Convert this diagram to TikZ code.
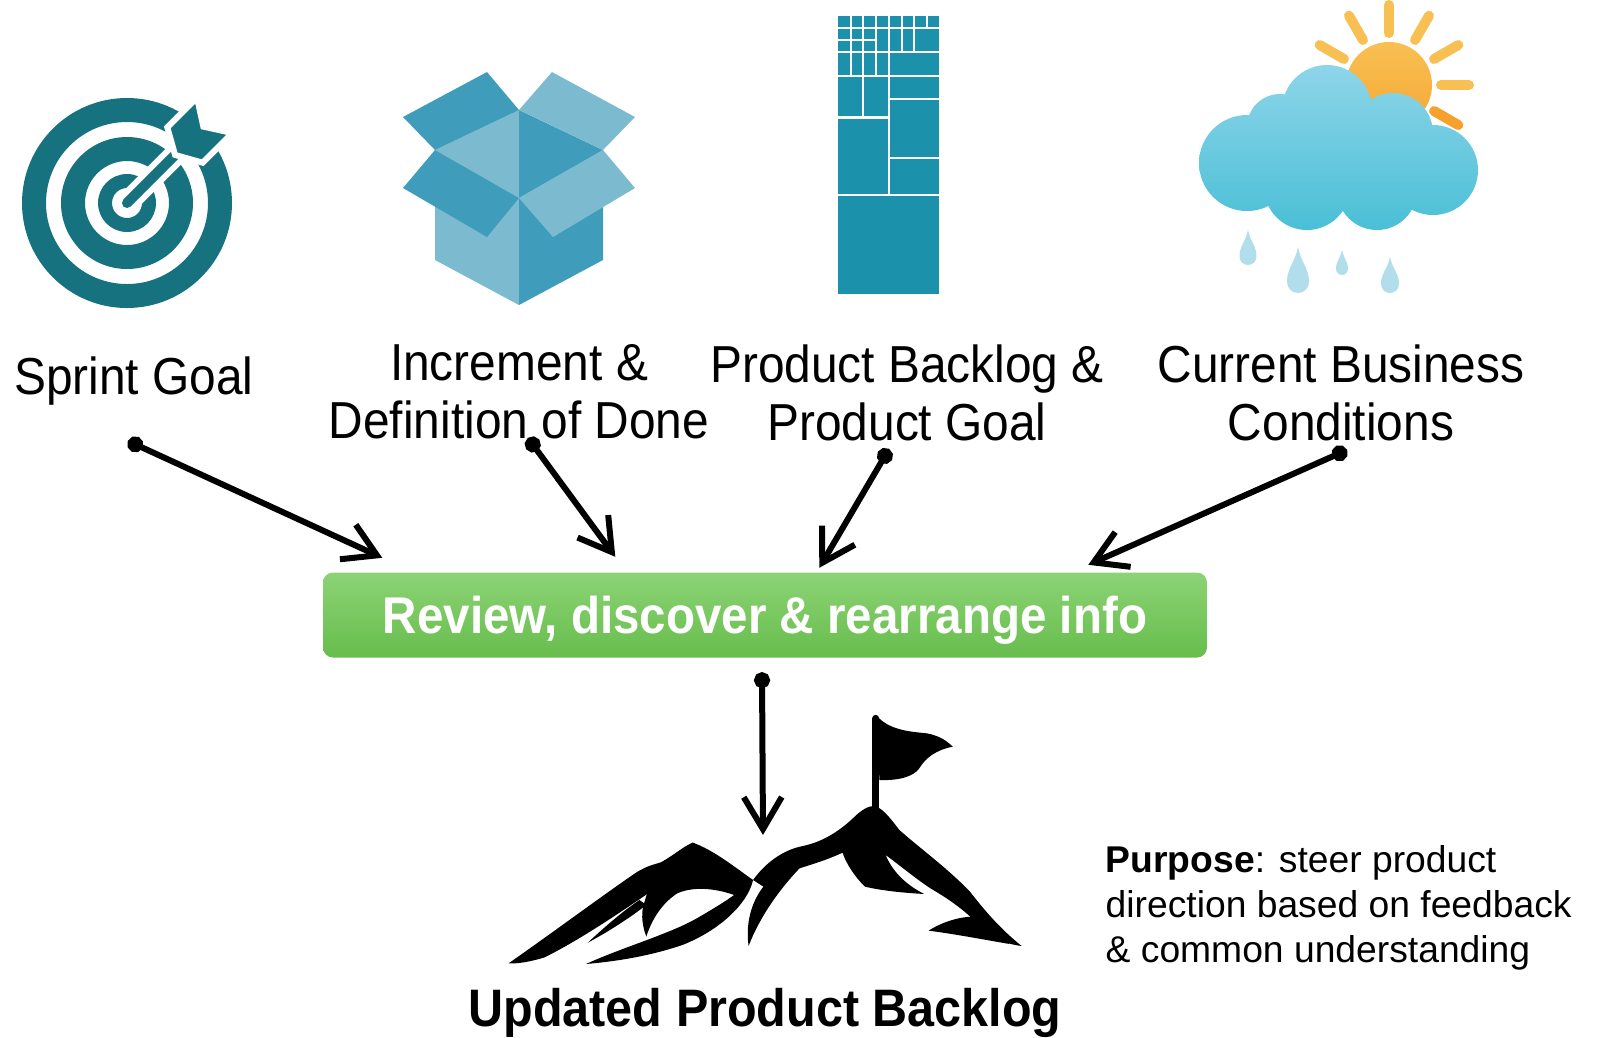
\documentclass[tikz,border=0pt]{standalone}
\usepackage{fontspec}
\setmainfont{Liberation Sans}
\newfontfamily\narrowfont{Liberation Sans}[FakeStretch=0.92]
\usetikzlibrary{arrows.meta,calc}

\definecolor{targetteal}{RGB}{22,114,126}
\definecolor{boxdark}{RGB}{64,156,187}
\definecolor{boxlight}{RGB}{124,187,207}
\definecolor{backlogblue}{RGB}{28,145,172}
\definecolor{cloudtop}{RGB}{142,213,233}
\definecolor{cloudbot}{RGB}{74,191,214}
\definecolor{sunyellow}{RGB}{248,192,82}
\definecolor{sunorange}{RGB}{244,162,45}
\definecolor{dropblue}{RGB}{178,222,235}
\definecolor{btntop}{RGB}{140,211,118}
\definecolor{btnbot}{RGB}{103,189,76}

% 雨滴: x, 顶端y, 高, 宽
\newcommand{\raindrop}[4]{%
	\fill[dropblue] (#1,#2) .. controls +({0.15*#4},{0.35*#3}) and +(0,{-0.3*#3}) .. ({#1+0.5*#4},{#2+#3-0.5*#4})
		arc[start angle=0,end angle=180,radius={0.5*#4}]
		.. controls +(0,{-0.3*#3}) and +({-0.15*#4},{0.35*#3}) .. (#1,#2) -- cycle;}

\begin{document}
\begin{tikzpicture}[x=0.1mm,y=-0.1mm,
		itemtext/.style={font=\narrowfont\fontsize{14.8}{16.5}\selectfont,align=center,anchor=base,inner sep=0pt},
		flow/.style={line width=0.6mm,{Circle[length=1.6mm]}-{Straight Barb[length=3.2mm,width=3.8mm]}},
		reviewbox/.style={rounded corners=1mm,top color=btntop,bottom color=btnbot,
			minimum width=88.4mm,minimum height=8.5mm,inner sep=0pt,text depth=0pt,text=white,
			font=\narrowfont\bfseries\fontsize{14.7}{16}\selectfont},
		sunray/.style={sunyellow,line width=1mm,line cap=round},
		gridline/.style={white,line width=0.22mm}]
	\useasboundingbox (0,0) rectangle (1605,1037);

	% 靶子
	\begin{scope}[shift={(127,203)}]
		\fill[targetteal,even odd rule] (0,0) circle[radius=105] circle[radius=81] circle[radius=66]
			circle[radius=42] circle[radius=29] circle[radius=15];
		\draw[white,line width=2.2mm,line cap=round] (0,0) -- (-45:80);
		\draw[targetteal,line width=1mm,line cap=round] (0,0) -- (-45:80);
		\filldraw[targetteal,draw=white,line width=0.6mm,rotate=45]
			(68,0) -- (82,25) -- (124,25) -- (108,0) -- (124,-25) -- (82,-25) -- cycle;
	\end{scope}

	% 打开的盒子
	\fill[boxlight] (435,150) -- (519,198) -- (519,305) -- (435,260) -- cycle;
	\fill[boxdark] (519,198) -- (603,150) -- (603,260) -- (519,305) -- cycle;
	\fill[boxlight] (519,110) -- (435,150) -- (519,198) -- cycle;
	\fill[boxdark] (519,110) -- (603,150) -- (519,198) -- cycle;
	\fill[boxdark] (403,117) -- (487,72) -- (519,110) -- (435,150) -- cycle;
	\fill[boxlight] (552,72) -- (635,117) -- (603,150) -- (519,110) -- cycle;
	\fill[boxdark] (403,188) -- (435,150) -- (519,198) -- (487,237) -- cycle;
	\fill[boxlight] (519,198) -- (603,150) -- (635,188) -- (553,237) -- cycle;

	% 待办列表的方块
	\fill[backlogblue] (838,16) rectangle (939,294);
	\draw[gridline] (838,195) -- (939,195) (888.7,16) -- (888.7,195)
		(838,117.5) -- (888.7,117.5) (838,76) -- (939,76) (863.3,16) -- (863.3,117.5)
		(888.7,99.3) -- (939,99.3) (888.7,158) -- (939,158)
		(838,28.3) -- (939,28.3) (838,40.3) -- (876,40.3) (838,52.3) -- (939,52.3)
		(851,16) -- (851,76) (876,16) -- (876,76) (901.7,16) -- (901.7,52.3)
		(914,16) -- (914,52.3) (926.7,16) -- (926.7,28.3);

	% 太阳, 云和雨
	\begin{scope}[shift={(1389,85)}]
		\foreach \a in {150,120,90,60,30,0}
			\draw[sunray] (-\a:52) -- (-\a:80);
		\draw[sunray,sunorange] (30:52) -- (30:80);
		\shade[top color=sunyellow,bottom color=sunorange!80!sunyellow] (0,0) circle[radius=43];
	\end{scope}
	\raindrop{1248}{230}{35}{17}
	\raindrop{1298}{247}{46}{22}
	\raindrop{1342}{250}{25}{12}
	\raindrop{1390}{257}{36}{18}
	\shade[top color=cloudtop,bottom color=cloudbot]
		(1247,163) circle[radius=48] (1307,187) circle[radius=43] (1377,190) circle[radius=40]
		(1433,170) circle[radius=45] (1280,127) circle[radius=33] (1327,110) circle[radius=45]
		(1393,133) circle[radius=40] (1300,160) circle[radius=45] (1380,160) circle[radius=45];

	% 山和旗子
	\begin{scope}[shift={(500,700)},xscale=0.3443,yscale=0.3333]
		% 左边的山坡
		\fill (25,790) .. controls (150,700) and (300,585) .. (395,518)
			.. controls (430,495) and (455,492) .. (470,486)
			.. controls (500,470) and (530,440) .. (560,428) -- (600,450)
			.. controls (540,510) and (450,565) .. (405,598)
			.. controls (330,650) and (230,720) .. (130,772)
			.. controls (90,785) and (50,792) .. (25,790) -- cycle;
		\fill (255,728) .. controls (305,680) and (355,635) .. (405,600) -- (425,615)
			.. controls (375,655) and (315,695) .. (255,728) -- cycle;
		\fill (470,486) -- (560,428) .. controls (620,450) and (680,500) .. (735,540)
			.. controls (720,610) and (640,690) .. (530,735)
			.. controls (430,770) and (330,785) .. (250,792)
			.. controls (360,740) and (500,700) .. (580,650)
			.. controls (630,620) and (660,600) .. (680,585)
			.. controls (640,570) and (570,555) .. (515,580)
			.. controls (470,610) and (440,660) .. (425,710)
			.. controls (410,670) and (410,630) .. (420,605)
			.. controls (435,550) and (450,510) .. (470,486) -- cycle;
		% 主峰
		\fill (735,540) .. controls (770,490) and (820,450) .. (880,438)
			.. controls (940,425) and (990,390) .. (1030,350)
			.. controls (1050,330) and (1070,318) .. (1085,318)
			.. controls (1110,322) and (1130,350) .. (1160,390)
			.. controls (1220,445) and (1300,505) .. (1365,575)
			.. controls (1410,635) and (1455,688) .. (1515,738)
			.. controls (1465,732) and (1420,710) .. (1390,675)
			.. controls (1350,630) and (1300,595) .. (1250,565)
			.. controls (1200,530) and (1160,495) .. (1120,465)
			.. controls (1140,515) and (1180,555) .. (1232,582)
			.. controls (1160,578) and (1100,570) .. (1060,560)
			.. controls (1030,530) and (1005,490) .. (995,458)
			.. controls (950,480) and (900,495) .. (870,505)
			.. controls (810,570) and (755,650) .. (722,738)
			.. controls (712,660) and (735,600) .. (765,560) -- cycle;
		\fill (1245,692) .. controls (1290,662) and (1345,648) .. (1385,650)
			.. controls (1420,680) and (1450,710) .. (1480,732)
			.. controls (1400,718) and (1320,702) .. (1245,692) -- cycle;
		% 旗子
		\draw[line width=0.7mm,line cap=round] (1092,55) -- (1092,330);
		\fill (1095,48) .. controls (1130,90) and (1190,95) .. (1240,100)
			.. controls (1280,108) and (1300,125) .. (1315,140)
			.. controls (1265,150) and (1235,175) .. (1218,205)
			.. controls (1200,230) and (1160,242) .. (1102,240) -- cycle;
	\end{scope}

	% 文字
	\node[itemtext] (goal) at (134,394) {Sprint Goal};
	\node[itemtext] (increment) at (519,438) {Increment \&\\Definition of Done};
	\node[itemtext] (backlog) at (907,440) {Product Backlog \&\\Product Goal};
	\node[itemtext] (business) at (1341,440) {Current Business\\Conditions};
	\node[reviewbox] (review) at (765,615) {Review, discover \& rearrange info};
	\node[font=\narrowfont\bfseries\fontsize{15}{18}\selectfont,anchor=base,inner sep=0pt] (result) at (765,1026) {Updated Product Backlog};
	\node[font=\fontsize{10.6}{12.8}\selectfont,align=left,anchor=base west,inner sep=0pt] (purpose) at (1105,962)
		{\textbf{Purpose}: steer product\\direction based on feedback\\\& common understanding};

	% 箭头的起点和终点
	\coordinate (goal-dot) at (128,441);
	\coordinate (increment-dot) at (528,438);
	\coordinate (backlog-dot) at (889,449);
	\coordinate (business-dot) at (1347,450);
	\coordinate (goal-in) at ($(review.north west)+(60,-14)$);
	\coordinate (increment-in) at ($(review.north west)+(293,-15)$);
	\coordinate (backlog-in) at ($(review.north west)+(497,-4)$);
	\coordinate (business-in) at ($(review.north west)+(766,-7)$);
	\coordinate (review-out) at ($(review.south)+(-3,14)$);
	\coordinate (peak-in) at (763,835);

	\draw[flow] (goal-dot) -- (goal-in);
	\draw[flow] (increment-dot) -- (increment-in);
	\draw[flow] (backlog-dot) -- (backlog-in);
	\draw[flow] (business-dot) -- (business-in);
	\draw[flow] (review-out) -- (peak-in);
\end{tikzpicture}
\end{document}
